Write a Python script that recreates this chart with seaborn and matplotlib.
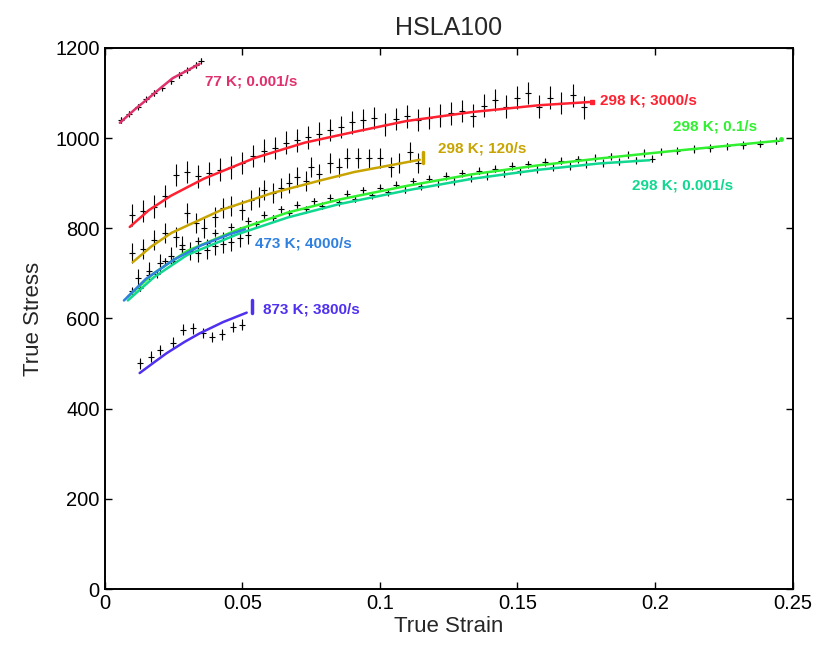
import numpy as np
import pandas as pd
import seaborn as sns
import matplotlib.pyplot as plt

# fitted model curves (strain, stress)
k77_fit_x = [0.0055, 0.0110, 0.0164, 0.0205, 0.0247, 0.0300, 0.0345]
k77_fit_y = [1034, 1064, 1091, 1112, 1133, 1150, 1165]

r3000_fit_x = [0.0091, 0.0160, 0.0240, 0.0360, 0.0545, 0.0727, 0.0908, 0.1097, 0.1337, 0.1580, 0.1760]
r3000_fit_y = [803, 840, 872, 910, 956, 990, 1014, 1038, 1058, 1073, 1080]

r120_fit_x = [0.0102, 0.0170, 0.0243, 0.0425, 0.0607, 0.0789, 0.0908, 0.1145]
r120_fit_y = [725, 760, 790, 841, 878, 907, 925, 952]

r01_fit_x = [0.0084, 0.0180, 0.0300, 0.0483, 0.0665, 0.0854, 0.1097, 0.1337, 0.1580, 0.1800, 0.2040, 0.2446]
r01_fit_y = [648, 701, 750, 797, 835, 864, 894, 920, 940, 955, 970, 994]

r0001_fit_x = [0.0084, 0.0180, 0.0300, 0.0483, 0.0665, 0.0854, 0.1097, 0.1337, 0.1580, 0.1800, 0.1980]
r0001_fit_y = [640, 692, 741, 787, 824, 854, 884, 910, 930, 944, 951]

k473_fit_x = [0.0070, 0.0150, 0.0250, 0.0350, 0.0450, 0.0510]
k473_fit_y = [640, 688, 730, 762, 786, 798]

k873_fit_x = [0.0127, 0.0180, 0.0225, 0.0290, 0.0345, 0.0430, 0.0516]
k873_fit_y = [479, 503, 523, 548, 567, 592, 613]

# measured points
k77_x = [0.006, 0.009, 0.012, 0.015, 0.018, 0.021, 0.024, 0.027, 0.030, 0.033, 0.035]
k77_y = [1040, 1054, 1070, 1086, 1100, 1112, 1126, 1140, 1150, 1162, 1172]

r3000_x = [0.010, 0.014, 0.018, 0.022, 0.026, 0.030, 0.034, 0.038, 0.042, 0.046, 0.050,
           0.054, 0.058, 0.062, 0.066, 0.070, 0.074, 0.078, 0.082, 0.086, 0.090, 0.094,
           0.098, 0.102, 0.106, 0.110, 0.114, 0.118, 0.122, 0.126, 0.130, 0.134, 0.138,
           0.142, 0.146, 0.150, 0.154, 0.158, 0.162, 0.166, 0.170, 0.174]
r3000_y = [830, 838, 848, 872, 918, 925, 915, 922, 930, 935, 945,
           960, 972, 978, 990, 995, 1002, 1010, 1018, 1025, 1035, 1040,
           1045, 1030, 1042, 1048, 1040, 1045, 1050, 1055, 1060, 1050, 1072,
           1085, 1070, 1090, 1100, 1070, 1090, 1078, 1095, 1068]

r120_x = [0.010, 0.014, 0.018, 0.022, 0.026, 0.030, 0.033, 0.036, 0.040, 0.043, 0.046,
          0.050, 0.053, 0.056, 0.058, 0.061, 0.064, 0.067, 0.070, 0.073, 0.075, 0.078,
          0.082, 0.085, 0.088, 0.092, 0.096, 0.100, 0.104, 0.107, 0.111, 0.114]
r120_y = [745, 755, 774, 790, 781, 834, 812, 800, 825, 845, 850,
          840, 863, 870, 885, 878, 890, 900, 914, 905, 936, 920,
          945, 935, 956, 956, 955, 956, 936, 945, 969, 945]

k473_x = [0.012, 0.016, 0.020, 0.024, 0.028, 0.031, 0.034, 0.037, 0.040, 0.043, 0.046, 0.049, 0.052]
k473_y = [690, 705, 722, 738, 762, 750, 745, 752, 760, 765, 770, 778, 785]

r01_x = [0.010, 0.016, 0.022, 0.028, 0.034, 0.040, 0.046, 0.052, 0.058, 0.064, 0.070,
         0.076, 0.082, 0.088, 0.094, 0.100, 0.106, 0.112, 0.118, 0.124, 0.130, 0.136,
         0.142, 0.148, 0.154, 0.160, 0.166, 0.172, 0.178, 0.184, 0.190, 0.196, 0.202,
         0.208, 0.214, 0.220, 0.226, 0.232, 0.238, 0.244]
r01_y = [662, 697, 727, 754, 772, 790, 804, 816, 830, 842, 852,
         860, 868, 876, 884, 890, 897, 904, 910, 916, 922, 928,
         932, 938, 942, 947, 950, 953, 957, 960, 963, 967, 970,
         972, 976, 978, 982, 985, 988, 994]

r0001_x = [0.013, 0.019, 0.025, 0.031, 0.037, 0.043, 0.049, 0.055, 0.061, 0.067, 0.073,
           0.079, 0.085, 0.091, 0.097, 0.103, 0.109, 0.115, 0.121, 0.127, 0.133, 0.139,
           0.145, 0.151, 0.157, 0.163, 0.169, 0.175, 0.181, 0.187, 0.193, 0.199]
r0001_y = [668, 698, 728, 751, 768, 783, 796, 809, 822, 833, 842,
           850, 858, 866, 873, 880, 886, 893, 899, 905, 911, 916,
           921, 926, 931, 935, 938, 942, 945, 948, 951, 954]

k873_x = [0.0127, 0.017, 0.020, 0.0247, 0.0284, 0.032, 0.0356, 0.039, 0.0425, 0.0465, 0.050]
k873_y = [501, 515, 530, 546, 575, 578, 568, 559, 565, 581, 586]

c77 = '#e0306e'
c3000 = '#ff2030'
c120 = '#c8a400'
c01 = '#30f030'
c0001 = '#10d890'
c473 = '#3080e0'
c873 = '#5030f0'

sns.set_theme(style='white')
plt.rcParams['font.family'] = ['Liberation Sans', 'DejaVu Sans']
plt.rcParams['xtick.direction'] = 'in'
plt.rcParams['ytick.direction'] = 'in'

fig = plt.figure(figsize=(8.18, 6.48), dpi=100)
ax = fig.add_axes([0.128, 0.091, 0.841, 0.835])

# measured points with error bars
points = [(k77_x, k77_y, 6), (r3000_x, r3000_y, 25), (r120_x, r120_y, 22),
          (k473_x, k473_y, 20), (r01_x, r01_y, 8), (r0001_x, r0001_y, 8),
          (k873_x, k873_y, 12)]
for px, py, err in points:
    ax.errorbar(px, py, yerr=err, fmt='+', color='black', ms=4, mew=0.8,
                elinewidth=0.8, capsize=0, zorder=2)

# fitted curves
fits = [(k77_fit_x, k77_fit_y, c77), (r3000_fit_x, r3000_fit_y, c3000),
        (r120_fit_x, r120_fit_y, c120), (r0001_fit_x, r0001_fit_y, c0001),
        (r01_fit_x, r01_fit_y, c01), (k473_fit_x, k473_fit_y, c473),
        (k873_fit_x, k873_fit_y, c873)]
for fx, fy, col in fits:
    df = pd.DataFrame({'strain': fx, 'stress': fy})
    sns.lineplot(data=df, x='strain', y='stress', color=col, lw=1.8,
                 ax=ax, zorder=3, sort=False)

# end marks
ax.plot([r3000_fit_x[-1] + 0.001], [r3000_fit_y[-1]], 's', color=c3000, ms=3)
ax.plot([r01_fit_x[-1] + 0.001], [r01_fit_y[-1] + 4], 'o', color=c01, ms=2.5)
ax.plot([r120_fit_x[-1] + 0.0013] * 2, [945, 970], color=c120, lw=2.5)
ax.plot([k873_fit_x[-1] + 0.0018] * 2, [612, 640], color=c873, lw=2.5)

labels = [
    (0.0363, 1125, '77 K; 0.001/s', c77),
    (0.1800, 1083, '298 K; 3000/s', c3000),
    (0.2065, 1025, '298 K; 0.1/s', c01),
    (0.1210, 976, '298 K; 120/s', c120),
    (0.1915, 896, '298 K; 0.001/s', c0001),
    (0.0545, 767, '473 K; 4000/s', c473),
    (0.0574, 621, '873 K; 3800/s', c873),
]
for tx, ty, txt, col in labels:
    ax.text(tx, ty, txt, color=col, fontsize=11, fontweight='bold',
            va='center', ha='left')

ax.set_xlim(0, 0.25)
ax.set_ylim(0, 1200)
ax.set_xticks([0, 0.05, 0.1, 0.15, 0.2, 0.25])
ax.set_xticklabels(['0', '0.05', '0.1', '0.15', '0.2', '0.25'])
ax.set_yticks([0, 200, 400, 600, 800, 1000, 1200])
ax.tick_params(labelsize=14.5, length=5, width=1, colors='black',
               top=True, right=True, bottom=True, left=True)
for s in ax.spines.values():
    s.set_color('black')
    s.set_linewidth(1.4)

ax.set_title('HSLA100', fontsize=18, pad=9)
ax.set_xlabel('True Strain', fontsize=16, labelpad=2)
ax.set_ylabel('True Stress', fontsize=16, labelpad=8)

fig.savefig('out.png', dpi=100)
